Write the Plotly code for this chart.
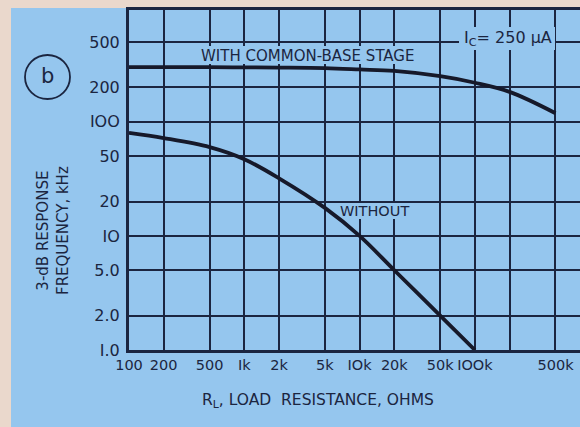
import plotly.graph_objects as go

# Load resistance (ohms) and 3-dB response frequency (kHz)
r_load = [100, 200, 500, 1000, 2000, 5000, 10000, 20000, 50000, 100000, 200000, 500000]
f_common_base = [302, 302, 301, 300, 299, 296, 288, 279, 251, 220, 183, 119]

r_without = [100, 200, 500, 1000, 2000, 5000, 10000, 20000, 50000, 100000]
f_without = [80, 72, 60, 47, 32, 17.6, 10, 5.0, 2.0, 1.0]

x_ticks = [100, 200, 500, 1000, 2000, 5000, 10000, 20000, 50000, 100000, 500000]
x_labels = ["100", "200", "500", "Ik", "2k", "5k", "IOk", "20k", "50k", "IOOk", "500k"]
x_unlabelled = [200000]
y_ticks = [1, 2, 5, 10, 20, 50, 100, 200, 500]
y_labels = ["I.0", "2.0", "5.0", "IO", "20", "50", "IOO", "200", "500"]

W, H = 580, 427
L, T, B = 129, 10, 77
PW, PH = W - L, H - T - B
X_DEC = 115.3          # pixels per decade, x
Y_TOP = 2.98           # log10 of the top of the frequency axis

BLUE = "#95c6ee"
INK = "#1b2540"
CURVE = "#16192a"
PAPER = "#ead8cc"
FONT = "DejaVu Sans"


def px(x):
    return (x - L) / PW


def py(y):
    return (H - B - y) / PH


def dx(x):
    # pixel column -> resistance value
    return 10 ** (2 + (x - L) / X_DEC)


def dy(y):
    # pixel row -> frequency value
    return 10 ** (Y_TOP * (H - B - y) / PH)


fig = go.Figure()
fig.add_trace(go.Scatter(x=r_load, y=f_common_base, mode="lines",
                         line=dict(color=CURVE, width=3.8, shape="spline"),
                         hoverinfo="skip", showlegend=False))
fig.add_trace(go.Scatter(x=r_without, y=f_without, mode="lines",
                         line=dict(color=CURVE, width=3.8, shape="spline"),
                         hoverinfo="skip", showlegend=False))

axis_common = dict(type="log", showgrid=True, gridcolor=INK, gridwidth=1.5,
                   zeroline=False, showline=True, linecolor=INK, linewidth=3,
                   ticks="")

fig.update_xaxes(**axis_common, range=[2, 2 + PW / X_DEC], mirror=True,
                 tickvals=x_ticks, ticktext=x_labels, tickangle=0,
                 tickfont=dict(family=FONT, size=14.5, color=INK),
                 minor=dict(tickvals=x_unlabelled, showgrid=True, gridcolor=INK,
                            gridwidth=1.5, ticks=""))
fig.update_yaxes(**axis_common, range=[0, Y_TOP],
                 tickvals=y_ticks, ticktext=y_labels, ticklabelstandoff=3,
                 tickfont=dict(family=FONT, size=16, color=INK))


def patch(x0, x1, y0, y1):
    # blue backing that hides grid lines under a label, kept below the curves
    return dict(type="rect", xref="x", yref="y", x0=dx(x0), x1=dx(x1),
                y0=dy(y1), y1=dy(y0), fillcolor=BLUE, line_width=0, layer="between")


shapes = [
    # paper border strips
    dict(type="rect", xref="paper", yref="paper", x0=px(0), x1=px(11), y0=py(H), y1=py(0),
         fillcolor=PAPER, line_width=0, layer="below"),
    dict(type="rect", xref="paper", yref="paper", x0=px(0), x1=px(W), y0=py(8), y1=py(0),
         fillcolor=PAPER, line_width=0, layer="below"),
    # panel marker
    dict(type="circle", xref="paper", yref="paper", x0=px(25), x1=px(70), y0=py(99), y1=py(55),
         line=dict(color=INK, width=1.8)),
    patch(197, 418, 46, 64),
    patch(337, 411, 203, 219),
    patch(459, 555, 27, 50),
]


def label(text, x, y, size, **kw):
    return dict(text=text, x=px(x), y=py(y), xref="paper", yref="paper", showarrow=False,
                xanchor="center", yanchor="middle",
                font=dict(family=FONT, size=size, color=INK), **kw)


annotations = [
    label("b", 47, 76, 21),
    label("WITH COMMON-BASE STAGE", 307, 56, 15),
    label("WITHOUT", 374, 211, 14.5),
    label("I<sub>C</sub>= 250 \u03bcA", 508, 38, 16),
    label("R<sub>L</sub>, LOAD  RESISTANCE, OHMS", 318, 401, 15.5),
    label("3-dB RESPONSE<br>FREQUENCY, kHz", 53, 231, 15, textangle=-90),
]

fig.update_layout(width=W, height=H, margin=dict(l=L, r=0, t=T, b=B),
                  paper_bgcolor=BLUE, plot_bgcolor=BLUE,
                  shapes=shapes, annotations=annotations)

fig.write_html("out.html")
